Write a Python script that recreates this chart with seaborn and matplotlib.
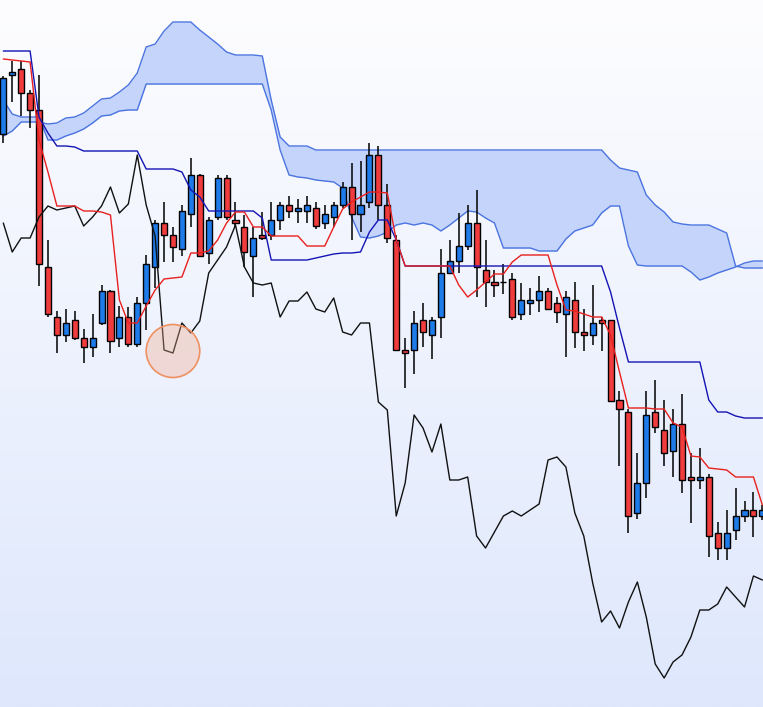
import numpy as np
import pandas as pd
import matplotlib
matplotlib.use("Agg")
import matplotlib.pyplot as plt
from matplotlib.patches import Ellipse
import seaborn as sns

# ── Candles (price units) ──
opens = [86.6, 92.5, 93.1, 90.7, 89.0, 73.3, 68.3, 66.5, 68.0, 66.2,
         65.3, 67.7, 70.9, 66.2, 68.3, 65.6, 69.7, 73.3, 77.7, 76.5,
         75.1, 78.6, 82.5, 74.7, 78.3, 82.2, 78.0, 77.3, 74.4, 76.5,
         76.5, 78.0, 79.5, 78.9, 78.9, 79.2, 77.7, 78.3, 79.5, 81.3,
         78.6, 79.8, 84.5, 79.5, 76.0, 65.0, 65.0, 68.0, 66.5, 68.3,
         72.7, 73.9, 75.4, 77.7, 73.0, 71.8, 71.8, 72.1, 68.6, 69.7,
         70.0, 70.9, 69.7, 68.6, 70.0, 66.8, 66.5, 68.0, 68.0, 60.0,
         58.8, 48.7, 51.7, 58.8, 57.0, 54.9, 57.6, 52.3, 52.0, 52.3,
         46.7, 45.2, 47.0, 48.4, 49.0, 48.4]
highs = [92.4, 93.9, 93.9, 91.0, 92.5, 76.0, 68.9, 69.1, 68.9, 67.1,
         68.6, 71.5, 71.0, 69.4, 69.3, 70.3, 74.5, 78.0, 79.8, 77.3,
         79.5, 84.2, 82.6, 78.3, 82.5, 82.5, 79.8, 78.5, 77.3, 78.8,
         79.8, 79.8, 80.4, 80.1, 80.4, 79.8, 79.5, 79.8, 81.8, 83.7,
         83.9, 85.7, 85.4, 81.6, 76.5, 66.2, 68.9, 69.7, 68.3, 75.1,
         76.0, 78.7, 79.5, 81.0, 76.0, 73.0, 73.6, 72.7, 71.7, 71.2,
         72.4, 71.2, 70.3, 70.9, 71.8, 69.1, 71.5, 68.3, 68.0, 60.9,
         59.1, 54.7, 60.9, 62.0, 60.0, 59.1, 60.6, 54.7, 55.2, 52.6,
         47.8, 49.0, 51.2, 49.9, 50.8, 49.5]
lows = [85.7, 89.8, 88.4, 87.2, 71.4, 68.3, 64.7, 65.8, 66.0, 63.7,
        64.3, 67.5, 64.7, 65.3, 65.3, 65.3, 67.0, 71.2, 73.8, 73.8,
        74.4, 77.3, 74.3, 73.6, 78.0, 78.0, 77.3, 73.3, 70.3, 76.0,
        76.0, 77.0, 78.2, 77.7, 77.7, 77.1, 77.1, 77.3, 79.2, 76.0,
        76.8, 79.2, 78.0, 75.7, 64.9, 61.2, 62.6, 65.3, 64.1, 66.2,
        72.6, 72.7, 75.0, 70.3, 69.3, 70.3, 70.6, 68.0, 68.0, 68.5,
        68.8, 69.0, 67.7, 64.3, 65.2, 64.9, 65.5, 64.9, 59.9, 53.4,
        46.7, 48.1, 50.2, 56.7, 53.4, 52.3, 50.7, 47.7, 51.1, 44.3,
        44.0, 44.0, 46.0, 47.8, 46.3, 48.0]
closes = [92.2, 92.8, 90.7, 89.0, 73.6, 68.6, 66.5, 67.7, 66.2, 65.3,
          66.2, 70.9, 65.9, 68.3, 65.6, 69.7, 73.6, 77.7, 76.5, 75.3,
          78.9, 82.5, 74.4, 78.0, 82.2, 78.3, 77.7, 74.8, 76.2, 76.2,
          78.0, 79.5, 78.9, 79.2, 79.5, 77.4, 78.6, 79.5, 81.3, 78.6,
          79.5, 84.5, 79.5, 76.2, 65.0, 64.7, 67.7, 66.8, 68.0, 72.7,
          73.9, 75.4, 77.7, 73.3, 71.8, 71.5, 71.8, 68.3, 70.0, 70.0,
          70.9, 69.1, 68.8, 70.3, 66.8, 66.5, 67.7, 67.7, 59.9, 59.1,
          48.4, 51.7, 58.5, 57.3, 54.7, 57.6, 52.0, 52.0, 52.3, 46.4,
          45.2, 46.7, 48.4, 49.0, 48.4, 49.0]

# ── Ichimoku lines ──
tenkan = [94.1, 94.0, 93.9, 93.8, 86.0, 82.8, 79.4, 79.4, 79.4, 78.9,
          78.9, 78.8, 78.5, 70.0, 67.7, 67.7, 69.4, 71.0, 72.1, 72.2,
          72.3, 74.7, 74.7, 74.9, 76.0, 77.7, 78.8, 78.8, 77.3, 77.3,
          76.4, 76.4, 76.4, 76.4, 75.4, 75.4, 75.4, 77.3, 79.1, 79.8,
          80.3, 80.8, 80.8, 80.7, 76.0, 73.4, 73.4, 73.4, 73.4, 73.4,
          73.4, 71.5, 70.3, 71.0, 71.8, 72.6, 72.6, 73.8, 74.5, 74.5,
          74.5, 74.5, 71.5, 69.0, 68.9, 68.6, 68.3, 68.3, 66.5, 62.8,
          59.2, 59.2, 59.2, 59.1, 59.1, 57.7, 57.3, 54.4, 54.3, 53.2,
          53.1, 53.0, 52.3, 52.3, 52.3, 49.5]
kijun = [94.9, 94.9, 94.9, 94.9, 88.3, 86.7, 85.4, 85.4, 85.3, 84.9,
         84.9, 84.9, 84.9, 84.9, 84.9, 84.9, 83.1, 83.1, 83.1, 83.1,
         82.8, 81.0, 80.3, 78.9, 78.9, 78.9, 78.9, 78.9, 78.9, 78.2,
         74.0, 74.0, 74.0, 74.0, 74.0, 74.2, 74.4, 74.6, 74.7, 74.7,
         74.8, 76.8, 78.0, 78.0, 76.0, 73.4, 73.4, 73.4, 73.4, 73.4,
         73.4, 73.4, 73.4, 73.4, 73.4, 73.4, 73.4, 73.4, 73.4, 73.4,
         73.4, 73.4, 73.4, 73.4, 73.4, 73.4, 73.4, 73.4, 70.8, 67.2,
         63.8, 63.8, 63.8, 63.8, 63.8, 63.8, 63.8, 63.8, 63.8, 60.0,
         58.8, 58.8, 58.4, 58.2, 58.2, 58.2]
chikou = [77.7, 74.8, 76.2, 76.2, 78.3, 79.4, 79.0, 79.2, 79.4, 77.4,
          78.3, 79.4, 81.3, 78.7, 79.6, 84.5, 79.5, 76.4, 65.0, 64.7,
          67.7, 66.7, 67.9, 72.7, 74.0, 75.3, 77.5, 73.3, 71.7, 71.5,
          71.7, 68.3, 69.9, 69.9, 70.8, 69.1, 68.8, 70.2, 66.8, 66.5,
          67.7, 67.7, 59.8, 59.0, 48.4, 51.7, 58.5, 57.2, 54.8, 57.6,
          52.0, 52.0, 52.3, 46.4, 45.2, 46.8, 48.4, 48.9, 48.4, 49.0,
          49.6, 54.0, 54.3, 53.3, 48.7, 46.4, 41.7, 37.8, 38.9, 37.2,
          39.8, 41.8, 38.3, 33.6, 32.2, 33.8, 34.5, 36.3, 39.0, 39.0,
          39.6, 41.3, 40.3, 39.3, 42.4, 42.0]
span_a = [90.0, 88.6, 88.3, 88.3, 88.3, 86.0, 86.0, 86.4, 86.7, 87.1,
          87.7, 88.4, 88.5, 88.9, 89.0, 89.0, 91.6, 91.6, 91.6, 91.6,
          91.6, 91.6, 91.6, 91.6, 91.6, 91.6, 91.6, 91.6, 91.6, 91.6,
          89.0, 85.0, 82.5, 82.3, 82.2, 82.0, 81.9, 81.8, 81.2, 78.3,
          76.3, 76.2, 76.4, 76.8, 77.5, 77.7, 77.5, 77.7, 77.5, 76.9,
          77.5, 78.2, 78.9, 78.8, 78.2, 77.7, 75.2, 75.2, 75.2, 75.2,
          74.9, 74.9, 74.9, 76.1, 76.9, 77.2, 77.5, 78.7, 79.4, 79.4,
          75.4, 73.5, 73.4, 73.4, 73.4, 73.4, 73.4, 72.8, 72.0, 72.3,
          72.7, 73.0, 73.3, 73.7, 73.9, 73.9]
span_b = [86.4, 86.9, 87.8, 87.8, 87.8, 87.6, 87.7, 88.2, 88.3, 88.7,
          89.4, 90.1, 90.2, 90.8, 91.5, 92.7, 95.3, 95.6, 96.9, 97.8,
          97.8, 97.8, 97.0, 96.3, 95.6, 94.8, 94.5, 94.5, 94.5, 94.4,
          90.0, 86.3, 85.4, 85.4, 85.4, 85.0, 85.0, 85.0, 85.0, 85.0,
          85.0, 85.0, 85.0, 85.0, 85.0, 85.0, 85.0, 85.0, 85.0, 85.0,
          85.0, 85.0, 85.0, 85.0, 85.0, 85.0, 85.0, 85.0, 85.0, 85.0,
          85.0, 85.0, 85.0, 85.0, 85.0, 85.0, 85.0, 85.0, 84.0, 83.2,
          83.0, 82.8, 80.5, 79.5, 78.8, 77.8, 77.6, 77.5, 77.5, 77.5,
          77.1, 76.7, 73.4, 73.2, 73.2, 73.2]

# highlighted chikou low (bar index, price)
mark_bar, mark_price = 19, 64.9

UP_COLOR = "#1E7BEA"
DOWN_COLOR = "#F03C3C"

df = pd.DataFrame({"open": opens, "high": highs, "low": lows, "close": closes,
                   "tenkan": tenkan, "kijun": kijun, "chikou": chikou,
                   "span_a": span_a, "span_b": span_b})
df["bar"] = np.arange(len(df))

sns.set_theme(style="white")

X0, X1, Y0, Y1 = -0.37, 85.07, 29.3, 100

fig = plt.figure(figsize=(7.63, 7.07), dpi=100)
ax = fig.add_axes([0, 0, 1, 1])
ax.set_axis_off()

# background gradient, white at the top, pale blue at the bottom
grad = np.linspace(0, 1, 256).reshape(-1, 1)
bg = matplotlib.colors.LinearSegmentedColormap.from_list(
    "bg", ["#FDFDFF", "#DEE7FC"])
ax.imshow(grad, aspect="auto", cmap=bg, extent=(X0, X1, Y0, Y1),
          origin="upper", zorder=0)

# cloud
ax.fill_between(df["bar"], df["span_a"], df["span_b"], color="#C4D4FA",
                linewidth=0, zorder=1)
sns.lineplot(data=df, x="bar", y="span_a", ax=ax, color="#4B74E0",
             linewidth=1, zorder=2)
sns.lineplot(data=df, x="bar", y="span_b", ax=ax, color="#4B74E0",
             linewidth=1, zorder=2)

# candles
up = df["close"] >= df["open"]
colors = np.where(up, UP_COLOR, DOWN_COLOR)
ax.vlines(df["bar"], df["low"], df["high"], color="black", linewidth=1.1,
          zorder=3)
body_lo = df[["open", "close"]].min(axis=1)
body_h = (df["close"] - df["open"]).abs()
ax.bar(df["bar"], body_h, bottom=body_lo, width=0.68, color=colors,
       edgecolor="black", linewidth=1.0, zorder=4)

# ichimoku lines
sns.lineplot(data=df, x="bar", y="chikou", ax=ax, color="#111111",
             linewidth=1, zorder=5)
sns.lineplot(data=df, x="bar", y="kijun", ax=ax, color="#1414B4",
             linewidth=1, zorder=5)
sns.lineplot(data=df, x="bar", y="tenkan", ax=ax, color="#E8201E",
             linewidth=1, zorder=5)

ax.add_patch(Ellipse((mark_bar, mark_price), 6.0, 5.3, facecolor="#F2A98A",
                     alpha=0.35, edgecolor="none", zorder=6))
ax.add_patch(Ellipse((mark_bar, mark_price), 6.0, 5.3, facecolor="none",
                     edgecolor="#EE9060", linewidth=1.2, zorder=6))

ax.set_xlim(X0, X1)
ax.set_ylim(Y0, Y1)
fig.savefig("out.png", dpi=100)
